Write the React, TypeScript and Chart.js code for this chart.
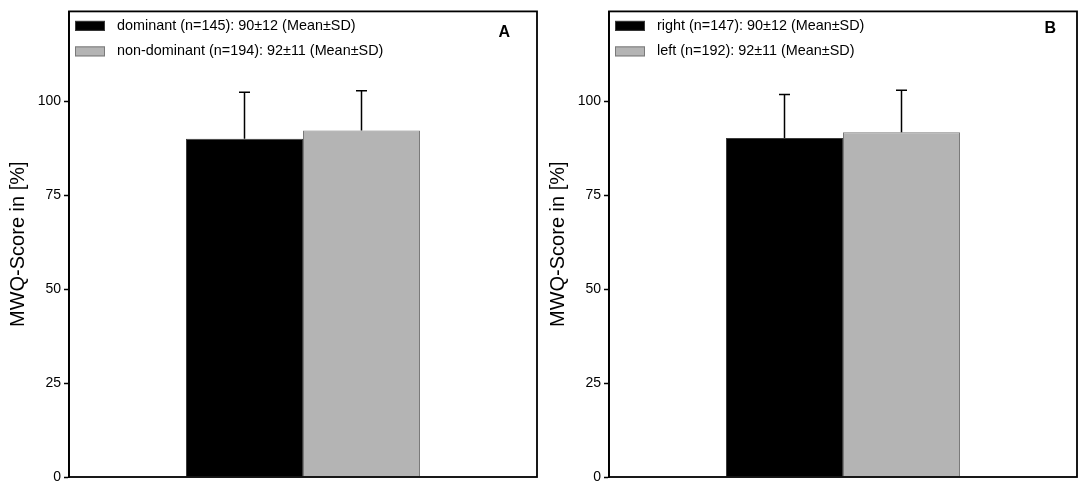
import { useEffect, useRef } from "react";
import { Chart, registerables } from "chart.js";

Chart.register(...registerables);

// values (bar height = mean, whisker = +SD)
const categories = [""];
const legendA = [
  "dominant (n=145): 90±12 (Mean±SD)",
  "non-dominant (n=194): 92±11 (Mean±SD)",
];
const legendB = [
  "right (n=147): 90±12 (Mean±SD)",
  "left (n=192): 92±11 (Mean±SD)",
];
const meanA = [90.1, 92.3];
const sdA = [12.4, 10.6];
const meanB = [90.3, 91.8];
const sdB = [11.6, 11.2];
const yTicks = [0, 25, 50, 75, 100];
const yMax = 124;
const yTitle = "MWQ-Score in [%]";

const fills = ["#000000", "#b4b4b4"];
const edges = ["#3a3a3a", "#7a7a7a"];
const FONT = "'Liberation Sans', Arial, sans-serif";

type PanelProps = {
  letter: string;
  letterDx: number;
  letterY: number;
  labels: string[];
  means: number[];
  sds: number[];
};

function Panel({ letter, letterDx, letterY, labels, means, sds }: PanelProps) {
  const canvasRef = useRef<HTMLCanvasElement>(null);

  useEffect(() => {
    if (!canvasRef.current) return;

    const errorBars = {
      id: "errorBars",
      afterDatasetsDraw(chart: any) {
        const { ctx } = chart;
        const y = chart.scales.y;
        ctx.save();
        ctx.strokeStyle = "#000";
        ctx.lineWidth = 1.5;
        means.forEach((m, i) => {
          const bar = chart.getDatasetMeta(i).data[0];
          if (!bar) return;
          const top = y.getPixelForValue(m + sds[i]);
          ctx.beginPath();
          ctx.moveTo(bar.x, bar.y);
          ctx.lineTo(bar.x, top);
          ctx.moveTo(bar.x - 5.5, top);
          ctx.lineTo(bar.x + 5.5, top);
          ctx.stroke();
        });
        ctx.restore();
      },
    };

    const frameAndLegend = {
      id: "frameAndLegend",
      afterDraw(chart: any) {
        const { ctx, chartArea } = chart;
        const { left, top, right, bottom } = chartArea;
        ctx.save();
        ctx.strokeStyle = "#000";
        ctx.lineWidth = 1.8;
        ctx.strokeRect(left, top, right - left, bottom - top);

        // legend inside the plot, top left
        ctx.font = `14.4px ${FONT}`;
        ctx.textBaseline = "middle";
        ctx.textAlign = "left";
        labels.forEach((txt, i) => {
          const cy = top + 14.5 + i * 25.5;
          ctx.fillStyle = fills[i];
          ctx.fillRect(left + 6, cy - 5, 30, 10);
          ctx.lineWidth = 1;
          ctx.strokeStyle = edges[i];
          ctx.strokeRect(left + 6.5, cy - 4.5, 29, 9);
          ctx.fillStyle = "#000";
          ctx.fillText(txt, left + 48, cy);
        });

        // panel letter
        ctx.font = `bold 16px ${FONT}`;
        ctx.textAlign = "right";
        ctx.fillText(letter, right - letterDx, letterY);
        ctx.restore();
      },
    };

    const chart = new Chart(canvasRef.current, {
      type: "bar",
      data: {
        labels: categories,
        datasets: means.map((m, i) => ({
          label: labels[i],
          data: [m],
          backgroundColor: fills[i],
          borderColor: edges[i],
          borderWidth: 1,
          borderSkipped: "bottom" as const,
          barPercentage: 1,
          categoryPercentage: 0.5,
        })),
      },
      options: {
        responsive: false,
        animation: false,
        layout: { padding: { left: 0, right: 3, top: 11, bottom: 16 } },
        scales: {
          x: { display: false },
          y: {
            min: 0,
            max: yMax,
            afterBuildTicks: (scale: any) => {
              scale.ticks = yTicks.map((v) => ({ value: v }));
            },
            afterFit: (scale: any) => {
              scale.width = 69;
            },
            ticks: {
              color: "#000",
              padding: 3,
              font: { size: 14, family: FONT },
            },
            grid: {
              drawOnChartArea: false,
              drawTicks: true,
              tickLength: 5,
              tickWidth: 1.5,
              tickColor: "#000",
            },
            border: { display: true, color: "#000", width: 1.8 },
            title: {
              display: true,
              text: yTitle,
              color: "#000",
              font: { size: 20, family: FONT },
              padding: { top: 6.5, bottom: 0 },
            },
          },
        },
        plugins: {
          legend: { display: false },
          tooltip: { enabled: false },
        },
      },
      plugins: [errorBars, frameAndLegend],
    });

    return () => chart.destroy();
  }, [letter, letterDx, letterY, labels, means, sds]);

  return <canvas ref={canvasRef} width={540} height={493} />;
}

export default function App() {
  return (
    <div
      style={{
        position: "absolute",
        left: 0,
        top: 0,
        width: 1084,
        height: 493,
        background: "#fff",
        display: "flex",
      }}
    >
      <Panel letter="A" letterDx={27} letterY={33} labels={legendA} means={meanA} sds={sdA} />
      <Panel letter="B" letterDx={21} letterY={29} labels={legendB} means={meanB} sds={sdB} />
    </div>
  );
}
